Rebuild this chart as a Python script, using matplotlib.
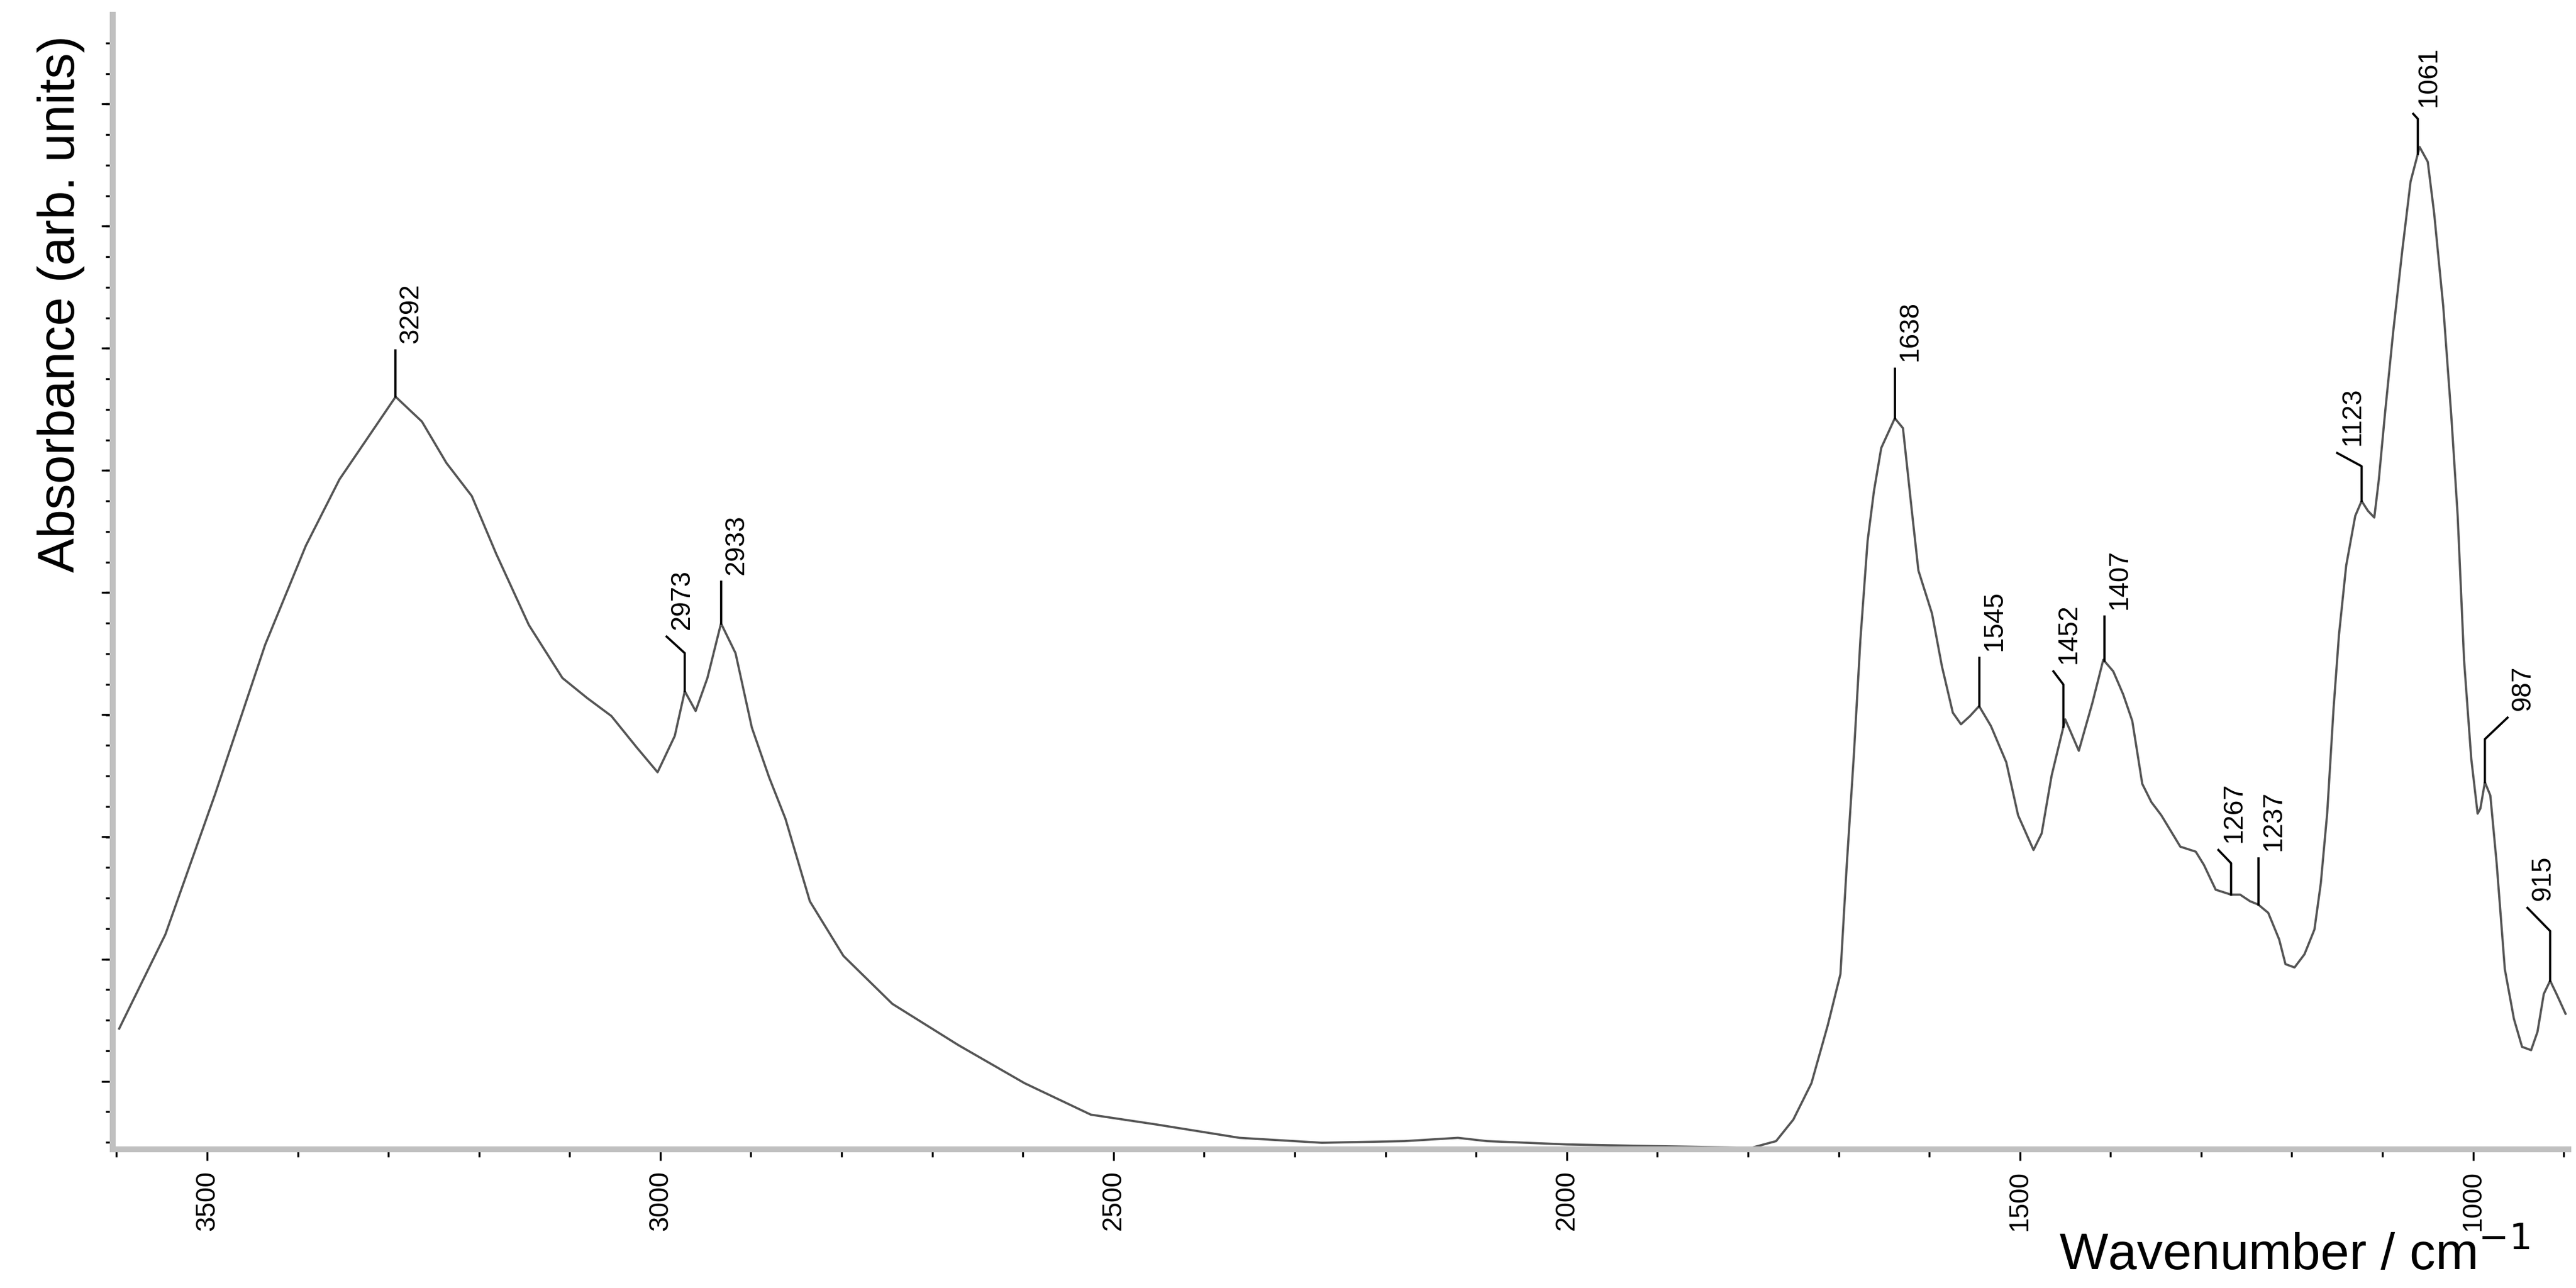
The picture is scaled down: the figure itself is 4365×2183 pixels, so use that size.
import numpy as np
import matplotlib.pyplot as plt
from matplotlib.ticker import MultipleLocator, FixedLocator

plt.rcParams["font.family"] = ["Liberation Sans", "DejaVu Sans"]

# spectrum (wavenumber in cm-1, absorbance in arb. units)
wavenumber = [3597, 3546, 3491, 3436, 3391, 3354, 3323, 3292, 3263, 3236, 3208, 3181,
              3145, 3108, 3081, 3054, 3026, 3003, 2984, 2973, 2961, 2948, 2933, 2917,
              2899, 2880, 2862, 2835, 2798, 2744, 2671, 2598, 2525, 2452, 2361, 2270,
              2179, 2120, 2088, 2000, 1906, 1796, 1769, 1750, 1730, 1712, 1698, 1691,
              1683, 1676, 1668, 1661, 1653, 1638, 1629, 1620, 1612, 1597, 1586, 1574,
              1565, 1555, 1545, 1532, 1515, 1502, 1485, 1476, 1465, 1450, 1435, 1420,
              1408, 1397, 1386, 1376, 1365, 1355, 1344, 1323, 1306, 1297, 1284, 1267,
              1257, 1246, 1237, 1226, 1214, 1207, 1197, 1186, 1175, 1168, 1161, 1154,
              1148, 1140, 1130, 1123, 1116, 1109, 1104, 1097, 1088, 1078, 1069, 1059,
              1050, 1043, 1033, 1024, 1017, 1010, 1002, 995, 992, 987, 981, 974, 965,
              955, 946, 936, 929, 922, 915, 908, 898]
absorbance = [73, 130, 215, 305, 365, 405, 430, 455, 440, 415, 395, 360,
              317, 285, 273, 262, 243, 228, 250, 277, 265, 285, 318, 300,
              255, 225, 200, 150, 117, 88, 63, 40, 21, 15, 7, 4,
              5, 7, 5, 3, 2, 1, 5, 18, 40, 75, 106, 172,
              240, 308, 368, 398, 424, 442, 436, 390, 350, 324, 292, 264,
              257, 262, 268, 256, 234, 202, 181, 191, 226, 260, 241, 270,
              296, 289, 275, 259, 221, 210, 202, 183, 180, 172, 157, 154,
              154, 150, 148, 143, 127, 112, 110, 118, 133, 161, 203, 266,
              311, 353, 383, 392, 386, 382, 405, 446, 495, 544, 585, 606,
              597, 566, 510, 443, 383, 296, 236, 203, 206, 222, 214, 173, 109,
              79, 62, 60, 71, 94, 102, 94, 82]

# peak labels: peak position, leader top height, leader end (wn, height)
peak_wn = [3292, 2973, 2933, 1638, 1545, 1452, 1407, 1267, 1237, 1123, 1061, 987, 915]
leader_top = [483, 300, 343, 472, 297, 281, 322, 173, 176, 413, 623, 248, 132]
leader_end_wn = [3292, 2993, 2933, 1638, 1545, 1463, 1407, 1281, 1237, 1150, 1066, 962, 940]
leader_end_a = [483, 310, 343, 472, 297, 289, 322, 181, 176, 421, 626, 261, 146]

fig = plt.figure(figsize=(14.55, 7.277), dpi=300)
ax = fig.add_axes([0.0438, 0.1076, 0.9532, 0.881])

ax.plot(wavenumber, absorbance, color="#555555", lw=0.9)

for p, top, ew, ea in zip(peak_wn, leader_top, leader_end_wn, leader_end_a):
    pa = np.interp(p, wavenumber[::-1], absorbance[::-1])
    ax.plot([p, p, ew], [pa, top, ea], color="black", lw=0.9)
    ax.annotate(str(p), (ew, ea), xytext=(1, 3), textcoords="offset points",
                rotation=90, ha="left", va="bottom", fontsize=11)

ax.set_xlim(3604, 895)
ax.set_ylim(0, 686)

ax.xaxis.set_major_locator(MultipleLocator(500))
ax.xaxis.set_minor_locator(MultipleLocator(100))
ax.yaxis.set_major_locator(FixedLocator(41.2 + 73.85 * np.arange(10)))
ax.yaxis.set_minor_locator(FixedLocator(41.2 + 18.46 * np.arange(-2, 36)))
ax.set_yticklabels([])
ax.tick_params(axis="x", which="major", direction="out", length=4.5, width=0.8,
               labelsize=11, pad=4, labelrotation=90)
ax.tick_params(axis="x", which="minor", direction="out", length=3, width=0.8)
ax.tick_params(axis="y", which="major", direction="out", length=4.5, width=0.8)
ax.tick_params(axis="y", which="minor", direction="out", length=3, width=0.8)

for side in ["top", "right"]:
    ax.spines[side].set_visible(False)
for side in ["bottom", "left"]:
    ax.spines[side].set_color("#c0c0c0")
    ax.spines[side].set_linewidth(2.4)

fig.text(0.0238, 0.764, "Absorbance (arb. units)", rotation=90, ha="center",
         va="center", fontsize=21)
fig.text(0.982, 0.006, "Wavenumber / cm$^{-1}$", ha="right", va="bottom", fontsize=21)

fig.savefig("out.png", dpi=300)
